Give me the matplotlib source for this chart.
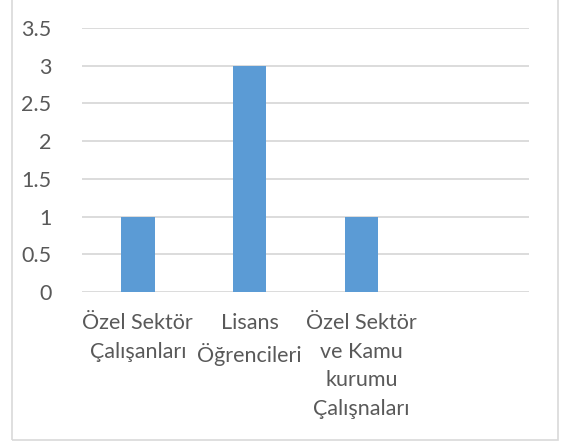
import matplotlib.pyplot as plt
import matplotlib.patches as patches

categories = ['Özel Sektör\nÇalışanları', 'Lisans\nÖğrencileri',
              'Özel Sektör\nve Kamu\nkurumu\nÇalışnaları', '']
values = [1, 3, 1, 0]
yticks = [0, 0.5, 1, 1.5, 2, 2.5, 3, 3.5]
ytick_labels = ['0', '0.5', '1', '1.5', '2', '2.5', '3', '3.5']

text_color = '#595959'
grid_color = '#d9d9d9'
bar_color = '#5b9bd5'

plt.rcParams['font.family'] = ['Lato', 'DejaVu Sans']

fig = plt.figure(figsize=(5.64, 4.41), dpi=100)
ax = fig.add_axes([82 / 564, 1 - 292 / 441, 447 / 564, 264 / 441])

x = list(range(len(categories)))
ax.bar(x, values, width=0.3, color=bar_color, zorder=3)

ax.set_xlim(-0.5, len(categories) - 0.5)
ax.set_ylim(0, 3.5)
ax.set_yticks(yticks)
ax.set_yticklabels(ytick_labels)
ax.set_xticks(x)
ax.set_xticklabels(categories, linespacing=1.55, ha='center', va='top')

ax.grid(axis='y', color=grid_color, lw=1.3, zorder=0)
for s in ax.spines.values():
    s.set_visible(False)
ax.tick_params(axis='both', length=0, colors=text_color, labelsize=15.5)
ax.tick_params(axis='y', pad=22)
ax.tick_params(axis='x', pad=15)

# outer chart border
fig.patches.append(patches.Rectangle((12 / 564, 1 / 441), 546 / 564, 1.2,
                                     transform=fig.transFigure, fill=False,
                                     edgecolor='#d9d9d9', lw=1.2))

plt.savefig('out.png', dpi=100)
